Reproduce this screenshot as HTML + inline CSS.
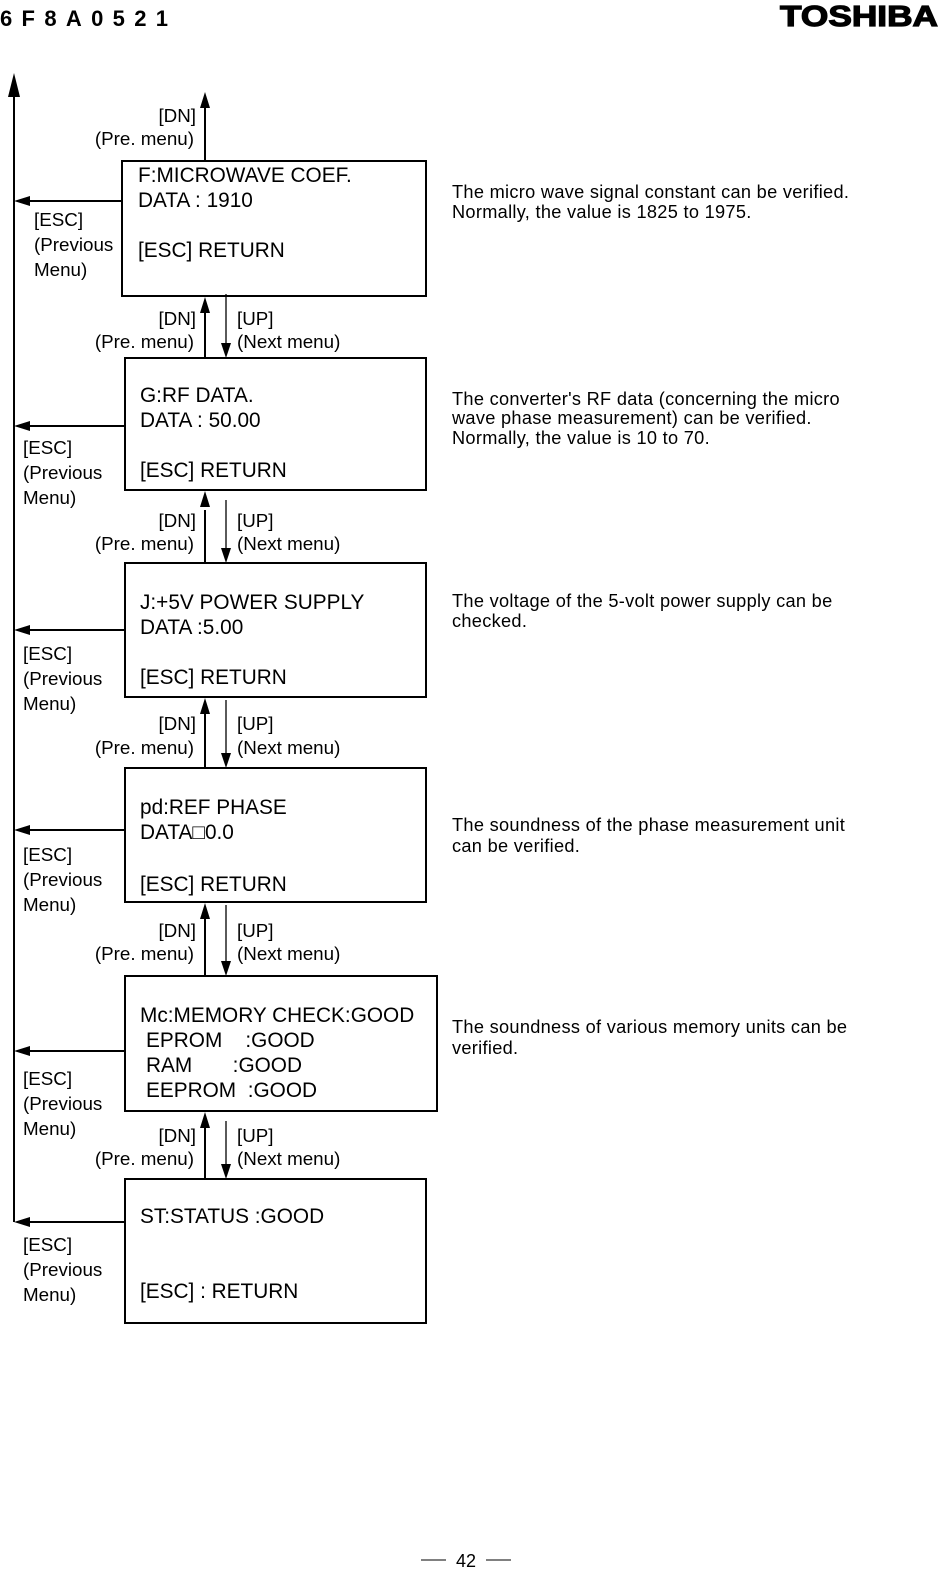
<!DOCTYPE html>
<html><head><style>
body{margin:0;background:#fff;}
svg{display:block;font-family:"Liberation Sans",Arial,sans-serif;}
.pre{white-space:pre;}
</style></head><body>
<svg width="944" height="1577" viewBox="0 0 944 1577" xmlns="http://www.w3.org/2000/svg">
<text x="0" y="26" font-size="22" font-weight="bold" textLength="168" lengthAdjust="spacing">6F8A0521</text>
<text x="938" y="26" text-anchor="end" font-size="29" font-weight="bold" stroke="#000" stroke-width="1.2" textLength="158" lengthAdjust="spacingAndGlyphs">TOSHIBA</text>

<g stroke="#000" stroke-width="2" fill="none">
<line x1="14" y1="80" x2="14" y2="1222"/>
<rect x="122" y="161" width="304" height="135"/>
<rect x="125" y="358" width="301" height="132"/>
<rect x="125" y="563" width="301" height="134"/>
<rect x="125" y="768" width="301" height="134"/>
<rect x="125" y="976" width="312" height="135"/>
<rect x="125" y="1179" width="301" height="144"/>
<line x1="205" y1="161" x2="205" y2="100"/>
<line x1="122" y1="201" x2="24" y2="201"/>
<line x1="125" y1="426" x2="24" y2="426"/>
<line x1="125" y1="630" x2="24" y2="630"/>
<line x1="125" y1="830" x2="24" y2="830"/>
<line x1="125" y1="1051" x2="24" y2="1051"/>
<line x1="125" y1="1222" x2="24" y2="1222"/>
<line x1="205" y1="358" x2="205" y2="306"/>
<line x1="205" y1="563" x2="205" y2="510"/>
<line x1="205" y1="768" x2="205" y2="707"/>
<line x1="205" y1="976" x2="205" y2="912"/>
<line x1="205" y1="1179" x2="205" y2="1121"/>
</g>
<g stroke="#000" stroke-width="1.3">
<line x1="226" y1="294" x2="226" y2="345"/>
<line x1="226" y1="500" x2="226" y2="550"/>
<line x1="226" y1="700" x2="226" y2="755"/>
<line x1="226" y1="905" x2="226" y2="963"/>
<line x1="226" y1="1121" x2="226" y2="1166"/>
</g>
<g fill="#000">
<path d="M14,73 L8,97 L20,97 Z"/>
<path d="M205,92 L200,108 L210,108 Z"/>
<path d="M205,297 L200,313 L210,313 Z"/>
<path d="M205,491 L200,507 L210,507 Z"/>
<path d="M205,698 L200,714 L210,714 Z"/>
<path d="M205,903 L200,919 L210,919 Z"/>
<path d="M205,1112 L200,1128 L210,1128 Z"/>
<path d="M226,358 L221,343 L231,343 Z"/>
<path d="M226,563 L221,548 L231,548 Z"/>
<path d="M226,768 L221,753 L231,753 Z"/>
<path d="M226,976 L221,961 L231,961 Z"/>
<path d="M226,1179 L221,1164 L231,1164 Z"/>
<path d="M14,201 L30,196 L30,206 Z"/>
<path d="M14,426 L30,421 L30,431 Z"/>
<path d="M14,630 L30,625 L30,635 Z"/>
<path d="M14,830 L30,825 L30,835 Z"/>
<path d="M14,1051 L30,1046 L30,1056 Z"/>
<path d="M14,1222 L30,1217 L30,1227 Z"/>
</g>

<g font-size="18.8">
<g text-anchor="end">
<text x="196" y="122">[DN]</text><text x="194" y="145">(Pre. menu)</text>
<text x="196" y="325">[DN]</text><text x="194" y="348">(Pre. menu)</text>
<text x="196" y="527">[DN]</text><text x="194" y="550">(Pre. menu)</text>
<text x="196" y="730">[DN]</text><text x="194" y="754">(Pre. menu)</text>
<text x="196" y="937">[DN]</text><text x="194" y="960">(Pre. menu)</text>
<text x="196" y="1142">[DN]</text><text x="194" y="1165">(Pre. menu)</text>
</g>
<text x="237" y="325">[UP]</text><text x="237" y="348">(Next menu)</text>
<text x="237" y="527">[UP]</text><text x="237" y="550">(Next menu)</text>
<text x="237" y="730">[UP]</text><text x="237" y="754">(Next menu)</text>
<text x="237" y="937">[UP]</text><text x="237" y="960">(Next menu)</text>
<text x="237" y="1142">[UP]</text><text x="237" y="1165">(Next menu)</text>

<text x="34" y="226">[ESC]</text><text x="34" y="251">(Previous</text><text x="34" y="276">Menu)</text>
<text x="23" y="454">[ESC]</text><text x="23" y="479">(Previous</text><text x="23" y="504">Menu)</text>
<text x="23" y="660">[ESC]</text><text x="23" y="685">(Previous</text><text x="23" y="710">Menu)</text>
<text x="23" y="861">[ESC]</text><text x="23" y="886">(Previous</text><text x="23" y="911">Menu)</text>
<text x="23" y="1085">[ESC]</text><text x="23" y="1110">(Previous</text><text x="23" y="1135">Menu)</text>
<text x="23" y="1251">[ESC]</text><text x="23" y="1276">(Previous</text><text x="23" y="1301">Menu)</text>
</g>

<g font-size="20.8" class="pre">
<text class="pre" x="138" y="182">F:MICROWAVE COEF.</text>
<text class="pre" x="138" y="207">DATA : 1910</text>
<text class="pre" x="138" y="257">[ESC] RETURN</text>
<text class="pre" x="140" y="402">G:RF DATA.</text>
<text class="pre" x="140" y="427">DATA : 50.00</text>
<text class="pre" x="140" y="477">[ESC] RETURN</text>
<text class="pre" x="140" y="609">J:+5V POWER SUPPLY</text>
<text class="pre" x="140" y="634">DATA :5.00</text>
<text class="pre" x="140" y="684">[ESC] RETURN</text>
<text class="pre" x="140" y="814">pd:REF PHASE</text>
<text class="pre" x="140" y="839">DATA□0.0</text>
<text class="pre" x="140" y="891">[ESC] RETURN</text>
<text class="pre" x="140" y="1022">Mc:MEMORY CHECK:GOOD</text>
<text class="pre" x="146" y="1047">EPROM    :GOOD</text>
<text class="pre" x="146" y="1072">RAM       :GOOD</text>
<text class="pre" x="146" y="1097">EEPROM  :GOOD</text>
<text class="pre" x="140" y="1223">ST:STATUS :GOOD</text>
<text class="pre" x="140" y="1298">[ESC] : RETURN</text>
</g>

<g font-size="18.2" letter-spacing="0.3">
<text x="452" y="198">The micro wave signal constant can be verified.</text>
<text x="452" y="218">Normally, the value is 1825 to 1975.</text>
<text x="452" y="405">The converter's RF data (concerning the micro</text>
<text x="452" y="424">wave phase measurement) can be verified.</text>
<text x="452" y="444">Normally, the value is 10 to 70.</text>
<text x="452" y="607">The voltage of the 5-volt power supply can be</text>
<text x="452" y="627">checked.</text>
<text x="452" y="831">The soundness of the phase measurement unit</text>
<text x="452" y="852">can be verified.</text>
<text x="452" y="1033">The soundness of various memory units can be</text>
<text x="452" y="1054">verified.</text>
</g>

<line x1="421" y1="1560" x2="446" y2="1560" stroke="#000" stroke-width="1"/>
<line x1="486" y1="1560" x2="511" y2="1560" stroke="#000" stroke-width="1"/>
<text x="466" y="1567" text-anchor="middle" font-size="18">42</text>
</svg>
</body></html>
